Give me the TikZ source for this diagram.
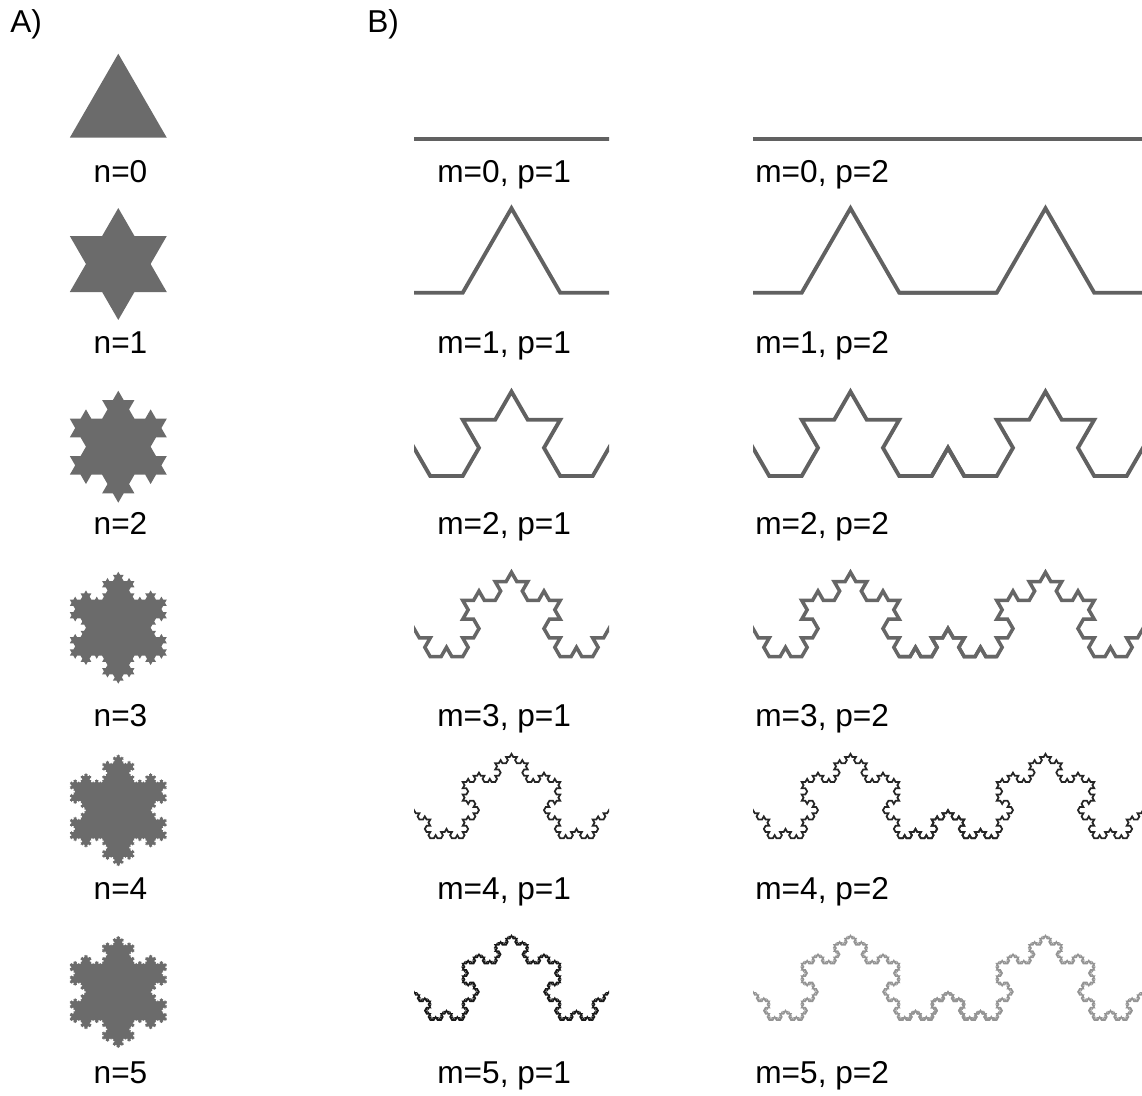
\documentclass[tikz,border=0pt]{standalone}
\usepackage{fontspec}
\setmainfont{Liberation Sans}

% turtle for Koch paths (unit step, left turn = +angle)
\newcommand\kochstart[3]{\pgfmathsetmacro\kochunit{#1}\def\kochsign{#2}\def\kochback{#3}%
    \def\kochx{0}\def\kochy{0}\def\kochh{0}\pgfpathmoveto{\pgfqpoint{0pt}{0pt}}}
\newcommand\kochfwd{%
    \pgfmathsetmacro\kochx{\kochx+\kochunit*cos(\kochh)}%
    \pgfmathsetmacro\kochy{\kochy+\kochunit*sin(\kochh)}%
    \pgfpathlineto{\pgfqpoint{\kochx pt}{\kochy pt}}}
\newcommand\kochturn[1]{\pgfmathsetmacro\kochh{\kochh+#1}}
\newcommand\kochF[1]{\ifcase#1\relax\kochfwd\or\kochgen0\or\kochgen1\or\kochgen2\or\kochgen3\or\kochgen4\fi}
\newcommand\kochgen[1]{\kochF#1\kochturn{\kochsign}\kochF#1\kochturn{\kochback}\kochF#1\kochturn{\kochsign}\kochF#1}

\begin{document}
\begin{tikzpicture}[x=0.02cm, y=-0.02cm,
    flake/.style={fill=black!58},
    lbl/.style={inner sep=0pt, anchor=base west, font=\fontsize{18}{22}\selectfont}]
    \useasboundingbox (0,0) rectangle (1142,1095);
    % panel letters
    \node[lbl] (panelA) at (10,33)  {A)};
    \node[lbl] (panelB) at (367,33) {B)};
    % A) snowflakes n=0..5
    \foreach \n/\yc/\yl in {0/109.7/182, 1/264/353, 2/446.7/534, 3/627.7/726, 4/810.3/899, 5/992/1083}{
        \begin{scope}[shift={(69.8,\yc+28)}]
            \fill[flake] \pgfextra{\kochstart{55.198/3^\n}{-60}{120}%
                \kochF\n\kochturn{120}\kochF\n\kochturn{120}\kochF\n\pgfpathclose};
        \end{scope}
        \node[lbl, anchor=base] (n\n) at (120.5,\yl) {n=\n};
    }
    % B) curves m=0..5, one and two periods
    \foreach \m/\yb/\yl/\w/\c/\cc in {0/139/182/2.2pt/62/62, 1/292.7/353/2.2pt/62/62,
            2/476/534/2.2pt/62/62, 3/656.7/726/2pt/60/60,
            4/838.3/899/1pt/85/85, 5/1020/1083/0.85pt/90/42}{
        % p=1
        \begin{scope}
            \clip (414,\yb-100) rectangle (609,\yb+10);
            \begin{scope}[shift={(365.25,\yb)}]
                \draw[line width=\w, draw=black!\c] \pgfextra{\kochstart{166.45/3^\m}{60}{-120}\kochF\m};
            \end{scope}
        \end{scope}
        % p=2
        \begin{scope}
            \clip (753,\yb-100) rectangle (1143,\yb+10);
            \foreach \xs in {704.25, 899.25}{
                \begin{scope}[shift={(\xs,\yb)}]
                    \draw[line width=\w, draw=black!\cc] \pgfextra{\kochstart{166.45/3^\m}{60}{-120}\kochF\m};
                \end{scope}
            }
        \end{scope}
        \node[lbl] (m\m p1) at (437,\yl) {m=\m, p=1};
        \node[lbl] (m\m p2) at (755,\yl) {m=\m, p=2};
    }
\end{tikzpicture}
\end{document}
